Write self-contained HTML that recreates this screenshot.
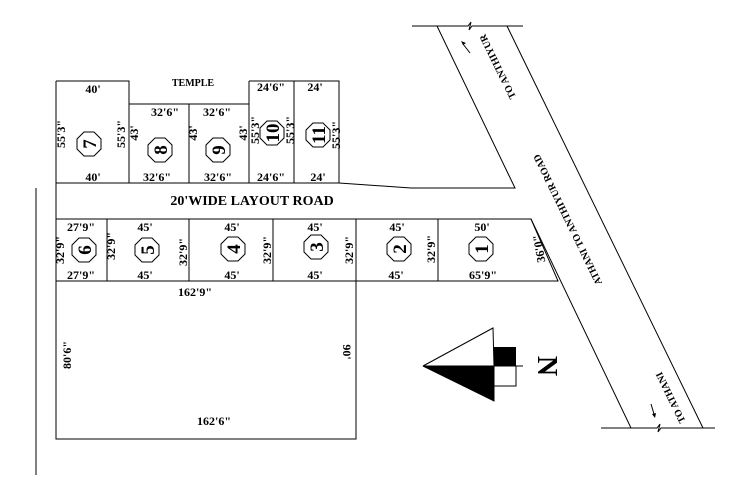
<!DOCTYPE html>
<html><head><style>body{margin:0;background:#fff}svg{display:block}text{font-family:"Liberation Serif",serif;font-weight:bold;font-size:12px;fill:#000}</style></head><body>
<svg width="735" height="483" viewBox="0 0 735 483" xmlns="http://www.w3.org/2000/svg">
<g fill="none" stroke="#000" stroke-width="1">
<path d="M56,81H129V183M129,104H249M56,81V282M189,104V183M249,81H339V183M294,81V183M249,81V183"/>
<path d="M56,183H339L411,188H515L437,26"/>
<path d="M412,26H468l3,-4l-2,8l3,-4H523"/>
<path d="M507,26L703,428"/>
<path d="M531,219L631,428"/>
<path d="M601,428H657l3,-4l-2,8l3,-4H715"/>
<path d="M56,219H531L558,281H56M107,219V281M189,219V281M273,219V281M356,219V281M438,219V281"/>
<path d="M356,281V439H56V282"/>
<path d="M36,188V475"/>
<path d="M470,53L463,44M651,404L654,414"/>
</g>
<path d="M461,41l5,2l-3,2z M655,418l-3,-4l4,-1z" fill="#000"/>
<polygon points="493,328 423,366 494,366" fill="#fff" stroke="#000"/>
<polygon points="423,366 494,366 494,401" fill="#000" stroke="#000"/>
<rect x="494" y="347" width="22" height="19" fill="#000"/>
<rect x="494" y="366" width="22" height="20" fill="#fff" stroke="#000"/>
<line x1="494" y1="366" x2="523" y2="366" stroke="#000"/>
<text style="font-size:28px" transform="translate(538,366) rotate(90)" text-anchor="middle">N</text>
<g fill="#fff" stroke="#000">
<polygon id="o" points="-5,-12 5,-12 12,-5 12,5 5,12 -5,12 -12,5 -12,-5" transform="translate(89,144)"/>
<use href="#o" transform="translate(71,6)"/><use href="#o" transform="translate(129,6)"/>
<use href="#o" transform="translate(183,-11)"/><use href="#o" transform="translate(229,-9)"/>
<use href="#o" transform="translate(-5,106)"/><use href="#o" transform="translate(58,106)"/>
<use href="#o" transform="translate(144,105)"/><use href="#o" transform="translate(227,103)"/>
<use href="#o" transform="translate(310,105)"/><use href="#o" transform="translate(392,105)"/>
</g>
<g text-anchor="middle">
<text style="font-size:19px" transform="translate(89,144) rotate(-90)" dy="7">7</text>
<text style="font-size:19px" transform="translate(160,150) rotate(-90)" dy="7">8</text>
<text style="font-size:19px" transform="translate(218,150) rotate(-90)" dy="7">9</text>
<text style="font-size:19px" transform="translate(272,133) rotate(-90)" dy="7">10</text>
<text style="font-size:19px" transform="translate(318,135) rotate(-90)" dy="7">11</text>
<text style="font-size:19px" transform="translate(84,250) rotate(-90)" dy="7">6</text>
<text style="font-size:19px" transform="translate(147,250) rotate(-90)" dy="7">5</text>
<text style="font-size:19px" transform="translate(233,249) rotate(-90)" dy="7">4</text>
<text style="font-size:19px" transform="translate(316,247) rotate(-90)" dy="7">3</text>
<text style="font-size:19px" transform="translate(399,249) rotate(-90)" dy="7">2</text>
<text style="font-size:19px" transform="translate(481,249) rotate(-90)" dy="7">1</text>
</g>
<g text-anchor="middle">
<text x="193" y="86" style="font-size:10px">TEMPLE</text>
<text x="93" y="93">40'</text><text x="93" y="181">40'</text>
<text x="165" y="116">32'6"</text><text x="217" y="116">32'6"</text>
<text x="157" y="181">32'6"</text><text x="218" y="181">32'6"</text>
<text x="271" y="91">24'6"</text><text x="315" y="91">24'</text>
<text x="271" y="181">24'6"</text><text x="318" y="181">24'</text>
<text x="252" y="205" style="font-size:14px">20'WIDE LAYOUT ROAD</text>
<text x="81" y="231">27'9"</text><text x="81" y="279">27'9"</text>
<text x="145" y="231">45'</text><text x="145" y="279">45'</text>
<text x="232" y="231">45'</text><text x="232" y="279">45'</text>
<text x="315" y="231">45'</text><text x="315" y="279">45'</text>
<text x="397" y="231">45'</text><text x="396" y="279">45'</text>
<text x="482" y="231">50'</text><text x="483" y="279">65'9"</text>
<text x="195" y="296">162'9"</text><text x="214" y="425">162'6"</text>
<text transform="translate(65,134) rotate(-90)">55'3"</text>
<text transform="translate(125,134) rotate(-90)">55'3"</text>
<text transform="translate(138,133) rotate(-90)">43'</text>
<text transform="translate(197,133) rotate(-90)">43'</text>
<text transform="translate(247,133) rotate(-90)">43'</text>
<text transform="translate(259,130) rotate(-90)">55'3"</text>
<text transform="translate(294,130) rotate(-90)">55'3"</text>
<text transform="translate(340,135) rotate(-90)">55'3"</text>
<text transform="translate(64,250) rotate(-90)">32'9"</text>
<text transform="translate(115,246) rotate(-90)">32'9"</text>
<text transform="translate(187,252) rotate(-90)">32'9"</text>
<text transform="translate(271,250) rotate(-90)">32'9"</text>
<text transform="translate(353,250) rotate(-90)">32'9"</text>
<text transform="translate(435,249) rotate(-90)">32'9"</text>
<text transform="translate(543,248) rotate(-100)">36'0"</text>
<text transform="translate(71,355) rotate(-90)">80'6"</text>
<text transform="translate(343,352) rotate(90)">90'</text>
<text transform="translate(497,67) rotate(-116)" dy="4" style="font-size:10px">TO ANTHIYUR</text>
<text transform="translate(567,220) rotate(-116)" dy="4" style="font-size:10px">ATHANI TO ANTHIYUR ROAD</text>
<text transform="translate(670,398) rotate(-116)" dy="4" style="font-size:10px">TO ATHANI</text>
</g>
</svg>
</body></html>
